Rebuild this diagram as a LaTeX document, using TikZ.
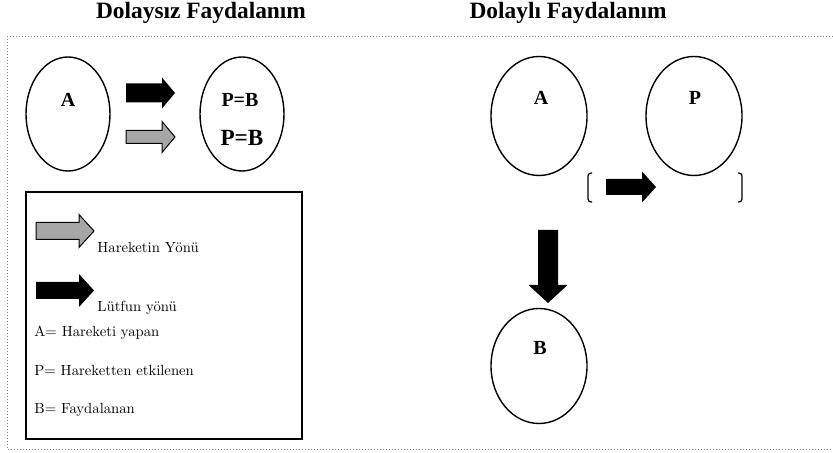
\documentclass[tikz,border=0pt]{standalone}
\usepackage{fontspec}
\newfontfamily\timesfont{Liberation Serif}
\newfontfamily\legendfont{lmroman10-regular.otf}
\usepackage{tikz}
\usetikzlibrary{positioning,shapes.geometric}
\tikzstyle{party}=[ellipse, draw=black, line width=0.7pt, inner sep=0pt]
\tikzstyle{title_text}=[font=\timesfont\bfseries\fontsize{11.7}{14}\selectfont]
\tikzstyle{party_label}=[font=\timesfont\bfseries\fontsize{10}{12}\selectfont, inner sep=0pt]
\tikzstyle{legend_text}=[font=\legendfont\fontsize{7.35}{9}\selectfont, anchor=base west, inner sep=0pt]
\tikzstyle{favour}=[fill=black]
\tikzstyle{motion}=[fill=gray!70, draw=black, line width=0.5pt]
\tikzstyle{frame}=[draw=gray, densely dotted, line width=0.5pt]
\tikzstyle{bracket}=[draw=black, line width=0.6pt, rounded corners=1.5pt]
% block arrows: style, tail x, tip x, centre y, half shaft, half head, head start
\newcommand{\rightblock}[7]{\path[#1] (#2,#4-#5) -- (#7,#4-#5) -- (#7,#4-#6) -- (#3,#4) -- (#7,#4+#6) -- (#7,#4+#5) -- (#2,#4+#5) -- cycle;}
\newcommand{\downblock}[7]{\path[#1] (#2-#5,#3) -- (#2-#5,#7) -- (#2-#6,#7) -- (#2,#4) -- (#2+#6,#7) -- (#2+#5,#7) -- (#2+#5,#3) -- cycle;}

\begin{document}
\begin{tikzpicture}[x=0.5pt, y=-0.5pt]
        \useasboundingbox (0,0) rectangle (833,453);
        \draw[style={frame}] (833,37) -- (7,37) -- (7,449) -- (833,449);
        \node[style={title_text}] (t1) at (201,13) {Dolaysız Faydalanım};
        \node[style={title_text}] (t2) at (568,13) {Dolaylı Faydalanım};

        % direct benefit
        \node[party, minimum width=42pt, minimum height=57pt] (A1) at (68,114) {};
        \node[party, minimum width=42pt, minimum height=57pt] (PB) at (242,114) {};
        \node[party_label] (a1) at (68,100) {A};
        \node[party_label] (pb1) at (240,100) {P=B};
        \node[party_label, font=\timesfont\bfseries\fontsize{11.6}{14}\selectfont] (pb2) at (242,138) {P=B};
        \rightblock{favour}{126}{175}{93}{9.5}{15.5}{162}
        \rightblock{motion}{126}{175}{137}{6.5}{15.5}{162}

        % legend
        \draw[line width=0.85pt] (26,192) rectangle (302,439);
        \rightblock{motion}{36}{94}{231}{8.5}{16.5}{79}
        \rightblock{favour}{36}{94}{290.5}{8.5}{16.5}{79}
        \node[legend_text] (l1) at (97,253) {Hareketin Yönü};
        \node[legend_text] (l2) at (97,312) {Lütfun yönü};
        \node[legend_text] (l3) at (34,336) {A= Hareketi yapan};
        \node[legend_text] (l4) at (34,375) {P= Hareketten etkilenen};
        \node[legend_text] (l5) at (34,413) {B= Faydalanan};

        % indirect benefit
        \node[party, minimum width=48pt, minimum height=59.5pt] (A2) at (539,116) {};
        \node[party, minimum width=48pt, minimum height=59.5pt] (P2) at (694,116) {};
        \node[party, minimum width=48pt, minimum height=57.5pt] (B2) at (539,366) {};
        \node[party_label] (a2) at (541,98) {A};
        \node[party_label] (p2) at (695,98) {P};
        \node[party_label] (b2) at (540,348) {B};
        \draw[style={bracket}] (592,173) -- (588,173) -- (588,202) -- (592,202);
        \draw[style={bracket}] (738,173) -- (742,173) -- (742,202) -- (738,202);
        \rightblock{favour}{606}{656}{187}{8}{15.5}{642}
        \downblock{favour}{548}{230}{303}{10}{19.5}{285}
    \end{tikzpicture}
\end{document}
